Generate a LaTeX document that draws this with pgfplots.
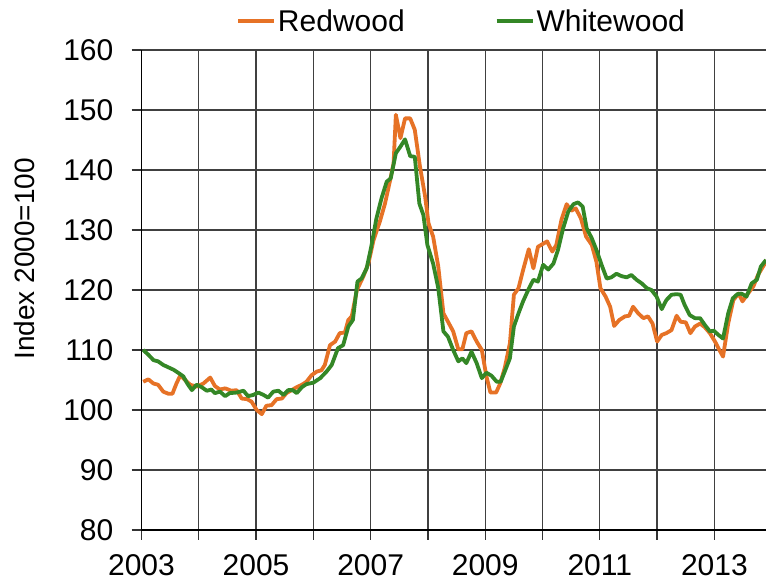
\documentclass[border=0pt]{standalone}
\usepackage{pgfplots}
\pgfplotsset{compat=1.18}
\usepackage{fontspec}
\setmainfont{Liberation Sans}

\definecolor{redwood}{RGB}{230,114,38}
\definecolor{whitewood}{RGB}{52,135,38}

\pgfplotstableread{
year value
2003.03 104.7
2003.12 105.1
2003.21 104.4
2003.29 104.2
2003.38 103.05
2003.47 102.7
2003.54 102.7
2003.61 104.4
2003.68 105.8
2003.76 105.0
2003.85 104.2
2003.96 103.9
2004.08 104.4
2004.20 105.4
2004.28 104.0
2004.37 103.4
2004.46 103.6
2004.57 103.2
2004.66 103.3
2004.75 101.9
2004.84 101.8
2004.92 101.4
2005.01 100.0
2005.10 99.3
2005.18 100.7
2005.27 100.8
2005.36 101.8
2005.45 101.9
2005.53 102.8
2005.62 103.3
2005.71 103.8
2005.80 104.2
2005.88 104.7
2005.97 105.8
2006.06 106.4
2006.14 106.6
2006.20 107.5
2006.29 110.8
2006.38 111.4
2006.46 112.8
2006.55 112.9
2006.61 115.0
2006.67 115.6
2006.76 120.0
2006.87 122.2
2006.96 124.4
2007.05 128.3
2007.16 131.4
2007.25 134.4
2007.34 138.3
2007.40 141.1
2007.44 149.2
2007.52 145.3
2007.60 148.6
2007.69 148.6
2007.77 146.7
2007.86 140.6
2007.95 135.6
2008.01 131.1
2008.09 128.9
2008.18 123.9
2008.27 116.1
2008.35 114.7
2008.44 113.1
2008.53 110.1
2008.60 110.1
2008.67 112.8
2008.76 113.1
2008.85 111.4
2008.94 110.0
2009.02 105.6
2009.09 102.9
2009.19 102.9
2009.26 104.4
2009.34 107.0
2009.43 111.1
2009.50 119.2
2009.58 120.3
2009.66 123.3
2009.76 126.8
2009.84 123.6
2009.92 127.2
2010.01 127.7
2010.08 128.1
2010.17 126.4
2010.24 127.5
2010.33 131.7
2010.42 134.3
2010.50 133.2
2010.58 133.6
2010.67 131.9
2010.76 128.9
2010.86 127.5
2010.94 124.7
2011.01 120.3
2011.10 118.9
2011.18 117.2
2011.25 114.0
2011.34 115.0
2011.44 115.6
2011.51 115.7
2011.58 117.2
2011.67 116.1
2011.76 115.3
2011.84 115.6
2011.92 114.4
2012.00 111.4
2012.08 112.5
2012.16 112.8
2012.25 113.3
2012.34 115.7
2012.41 114.7
2012.50 114.6
2012.58 112.8
2012.66 113.9
2012.75 114.4
2012.83 113.8
2012.92 112.8
2013.01 111.4
2013.08 110.1
2013.15 108.9
2013.24 114.4
2013.33 118.3
2013.42 119.4
2013.49 118.1
2013.57 119.2
2013.68 120.6
2013.76 122.5
2013.88 124.4
2013.95 125.2
}\redwooddata

\pgfplotstableread{
year value
2003.03 110.0
2003.12 109.2
2003.21 108.3
2003.29 108.1
2003.38 107.5
2003.47 107.1
2003.56 106.7
2003.64 106.2
2003.73 105.6
2003.80 104.4
2003.88 103.3
2003.96 104.2
2004.05 103.8
2004.14 103.2
2004.22 103.4
2004.28 102.8
2004.37 103.05
2004.46 102.3
2004.54 102.8
2004.66 102.9
2004.78 103.2
2004.86 102.3
2004.95 102.5
2005.04 102.9
2005.13 102.5
2005.21 102.05
2005.30 103.05
2005.39 103.2
2005.48 102.5
2005.56 103.3
2005.64 103.3
2005.71 102.8
2005.80 103.8
2005.88 104.3
2006.00 104.55
2006.12 105.3
2006.23 106.4
2006.32 107.5
2006.43 110.3
2006.52 110.8
2006.61 113.9
2006.69 115.0
2006.77 121.4
2006.84 121.9
2006.93 123.6
2007.01 127.2
2007.10 131.9
2007.19 135.3
2007.28 138.05
2007.35 138.6
2007.44 142.8
2007.52 143.9
2007.60 145.1
2007.69 142.3
2007.77 142.2
2007.85 134.4
2007.92 132.5
2007.99 127.5
2008.09 124.4
2008.18 120.3
2008.27 113.1
2008.35 112.2
2008.44 110.0
2008.53 108.1
2008.60 108.6
2008.67 107.8
2008.76 109.7
2008.85 107.8
2008.94 105.3
2009.02 106.2
2009.11 105.7
2009.20 104.7
2009.27 104.7
2009.34 106.4
2009.43 108.6
2009.50 113.9
2009.58 116.1
2009.66 118.1
2009.75 120.0
2009.84 121.7
2009.92 121.4
2010.01 124.2
2010.10 123.4
2010.19 124.4
2010.27 126.7
2010.36 130.3
2010.45 133.1
2010.54 134.3
2010.62 134.6
2010.70 133.9
2010.77 130.3
2010.86 128.6
2010.94 126.7
2011.03 124.2
2011.12 121.9
2011.20 122.1
2011.29 122.7
2011.38 122.3
2011.47 122.1
2011.55 122.5
2011.64 121.7
2011.73 121.1
2011.82 120.3
2011.90 120.0
2011.99 118.9
2012.08 116.8
2012.16 118.3
2012.25 119.2
2012.34 119.3
2012.41 119.2
2012.48 117.5
2012.57 115.8
2012.66 115.3
2012.75 115.3
2012.83 114.2
2012.92 113.1
2012.99 113.2
2013.07 112.5
2013.15 111.9
2013.24 116.1
2013.32 118.6
2013.40 119.3
2013.47 119.4
2013.56 118.9
2013.65 121.1
2013.74 121.7
2013.81 123.9
2013.90 125.0
}\whitewooddata

\begin{document}
\begin{tikzpicture}[font=\fontsize{30}{36}\selectfont]
\begin{axis}[
  at={(0pt,0pt)}, anchor=south west,
  scale only axis, width=624.6pt, height=480pt,
  xmin=2003, xmax=2013.9, ymin=80, ymax=160,
  axis lines*=left,
  x axis line style={-, black, line width=1.2pt},
  y axis line style={-, black, line width=1.2pt},
  grid=major,
  major grid style={black!75, line width=1.2pt},
  tick align=outside,
  major tick length=10pt,
  tick style={black!80, line width=1.2pt},
  xtick={2003,...,2013},
  xticklabels={2003,,2005,,2007,,2009,,2011,,2013},
  ytick={80,90,...,160},
  /pgf/number format/assume math mode=true,
  yticklabel style={inner sep=0pt, xshift=-18pt},
  xticklabel style={inner sep=0pt, yshift=-14pt},
  ylabel={Index 2000=100},
  ylabel style={at={(axis description cs:-0.1881,0.5646)}, anchor=center,
    font=\fontsize{28}{34}\selectfont},
  legend columns=2,
  legend style={draw=none, fill=none, at={(axis description cs:0.5125,1.0604)}, anchor=center,
    /tikz/every even column/.append style={column sep=88pt}, nodes={inner sep=2pt}},
  legend image code/.code={\draw[#1] (0pt,0pt) -- (36pt,0pt);},
  clip=true,
]
\addplot[redwood, line width=3.8pt, line join=round, mark=none] table[x=year, y=value] {\redwooddata};
\addlegendentry{Redwood}
\addplot[whitewood, line width=3.8pt, line join=round, mark=none] table[x=year, y=value] {\whitewooddata};
\addlegendentry{Whitewood}
\end{axis}
\pgfresetboundingbox
\useasboundingbox (-141.5pt,-55pt) rectangle (624.6pt,530pt);
\end{tikzpicture}
\end{document}
